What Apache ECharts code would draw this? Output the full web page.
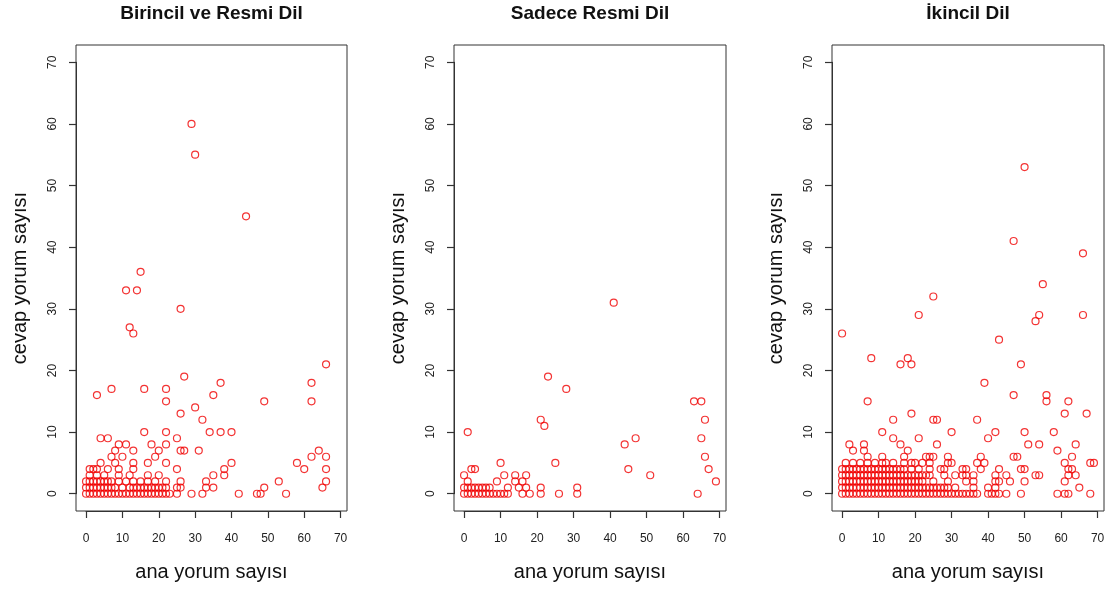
<!DOCTYPE html>
<html><head><meta charset="utf-8">
<script src="https://cdn.jsdelivr.net/npm/echarts@6/dist/echarts.min.js"></script>
<style>html,body{margin:0;padding:0;background:#fff}#c{width:1110px;height:590px}</style>
</head><body><div id="c"></div>
<script>
const panelTitles = ['Birincil ve Resmi Dil', 'Sadece Resmi Dil', 'İkincil Dil'];
const xAxisTitle = 'ana yorum sayısı';
const yAxisTitle = 'cevap yorum sayısı';
const tickValues = [0, 10, 20, 30, 40, 50, 60, 70];

// [ana yorum sayısı, cevap yorum sayısı]
const birincilResmi = [
  [29,60],[30,55],[44,45],[15,36],[11,33],[14,33],[26,30],[12,27],[13,26],[66,21],[27,19],[37,18],[62,18],
  [7,17],[16,17],[22,17],[3,16],[35,16],[22,15],[49,15],[62,15],[30,14],[26,13],[32,12],
  [16,10],[22,10],[34,10],[37,10],[40,10],
  [4,9],[6,9],[25,9],[9,8],[11,8],[18,8],[22,8],[8,7],[13,7],[20,7],[26,7],[27,7],[31,7],[64,7],
  [7,6],[10,6],[19,6],[62,6],[66,6],[4,5],[8,5],[13,5],[17,5],[22,5],[40,5],[58,5],
  [1,4],[2,4],[3,4],[6,4],[9,4],[13,4],[25,4],[38,4],[60,4],[66,4],
  [1,3],[3,3],[5,3],[9,3],[12,3],[17,3],[20,3],[35,3],[38,3],
  [0,2],[1,2],[2,2],[3,2],[4,2],[5,2],[6,2],[7,2],[9,2],[11,2],[13,2],[15,2],[17,2],[19,2],[22,2],[26,2],[33,2],[53,2],[66,2],
  [0,1],[1,1],[2,1],[3,1],[4,1],[5,1],[6,1],[7,1],[8,1],[10,1],[12,1],[13,1],[14,1],[15,1],[16,1],[17,1],[18,1],[19,1],[20,1],[21,1],[22,1],[25,1],[26,1],[33,1],[35,1],[49,1],[65,1],
  [0,0],[1,0],[2,0],[3,0],[4,0],[5,0],[6,0],[7,0],[8,0],[9,0],[10,0],[11,0],[12,0],[13,0],[14,0],[15,0],[16,0],[17,0],[18,0],[19,0],[20,0],[21,0],[22,0],[23,0],[25,0],[29,0],[32,0],[42,0],[47,0],[48,0],[55,0]
];

const sadeceResmi = [
  [41,31],[1,10],[23,19],[28,17],[21,12],[22,11],[63,15],[65,15],[66,12],[65,9],[66,6],[67,4],[69,2],[64,0],
  [44,8],[47,9],[45,4],[51,3],[25,5],[26,0],[31,1],[31,0],[21,1],[21,0],[10,5],[11,3],[9,2],[14,3],[17,3],
  [14,2],[16,2],[15,1],[17,1],[16,0],[18,0],[12,1],[7,1],[2,4],[3,4],[0,3],[1,2],
  [0,1],[1,1],[2,1],[3,1],[4,1],[5,1],[6,1],
  [0,0],[1,0],[2,0],[3,0],[4,0],[5,0],[6,0],[7,0],[8,0],[9,0],[10,0],[11,0],[12,0]
];

const ikincil = [
  [50,53],[47,41],[66,39],[55,34],[25,32],[21,29],[54,29],[66,29],[53,28],[0,26],[43,25],[8,22],[18,22],
  [16,21],[19,21],[49,21],[39,18],[47,16],[56,16],[56,15],[7,15],[62,15],[19,13],[61,13],[67,13],
  [14,12],[25,12],[26,12],[37,12],[11,10],[30,10],[42,10],[50,10],[58,10],[14,9],[21,9],[40,9],
  [2,8],[6,8],[16,8],[26,8],[51,8],[54,8],[64,8],[3,7],[6,7],[18,7],[59,7],
  [7,6],[11,6],[17,6],[23,6],[24,6],[25,6],[29,6],[38,6],[47,6],[48,6],[63,6],
  [1,5],[3,5],[5,5],[7,5],[9,5],[11,5],[12,5],[14,5],[17,5],[19,5],[20,5],[22,5],[24,5],[29,5],[30,5],[37,5],[39,5],[61,5],[68,5],[69,5],
  [0,4],[1,4],[2,4],[3,4],[4,4],[5,4],[6,4],[7,4],[8,4],[9,4],[10,4],[11,4],[12,4],[13,4],[14,4],[15,4],[16,4],[17,4],[19,4],[21,4],[24,4],[27,4],[28,4],[33,4],[34,4],[38,4],[43,4],[49,4],[50,4],[62,4],[63,4],
  [0,3],[1,3],[2,3],[3,3],[4,3],[5,3],[6,3],[7,3],[8,3],[9,3],[10,3],[11,3],[12,3],[13,3],[14,3],[15,3],[16,3],[17,3],[18,3],[19,3],[20,3],[21,3],[22,3],[23,3],[24,3],
  [28,3],[31,3],[33,3],[34,3],[36,3],[42,3],[45,3],[53,3],[54,3],[62,3],[64,3],
  [0,2],[1,2],[2,2],[3,2],[4,2],[5,2],[6,2],[7,2],[8,2],[9,2],[10,2],[11,2],[12,2],[13,2],[14,2],[15,2],[16,2],[17,2],[18,2],[19,2],[20,2],[21,2],[22,2],
  [25,2],[29,2],[34,2],[36,2],[42,2],[43,2],[46,2],[50,2],[61,2],
  [0,1],[1,1],[2,1],[3,1],[4,1],[5,1],[6,1],[7,1],[8,1],[9,1],[10,1],[11,1],[12,1],[13,1],[14,1],[15,1],[16,1],[17,1],[18,1],[19,1],[20,1],[21,1],[22,1],[23,1],[24,1],[25,1],[26,1],[27,1],[28,1],[29,1],
  [31,1],[36,1],[40,1],[42,1],[65,1],
  [0,0],[1,0],[2,0],[3,0],[4,0],[5,0],[6,0],[7,0],[8,0],[9,0],[10,0],[11,0],[12,0],[13,0],[14,0],[15,0],[16,0],[17,0],[18,0],[19,0],[20,0],[21,0],[22,0],[23,0],[24,0],[25,0],[26,0],[27,0],[28,0],[29,0],[30,0],[31,0],
  [32,0],[33,0],[34,0],[35,0],[36,0],[37,0],[40,0],[41,0],[42,0],[43,0],[45,0],[49,0],[59,0],[61,0],[62,0],[68,0]
];

const panelData = [birincilResmi, sadeceResmi, ikincil];

// layout
const BOX_LEFT = [76, 454, 832];
const BOX_W = [271, 272, 272];
const BOX_TOP = 45, BOX_H = 466;
const XMIN = -2.76, XMAX = 71.76, YMIN = -2.8, YMAX = 72.8;
const FONT = 'Liberation Sans, Arial, Helvetica, sans-serif';

const grid = [], xAxis = [], yAxis = [], series = [], graphic = [];
for (let i = 0; i < 3; i++) {
  const L = BOX_LEFT[i], W = BOX_W[i];
  const sx = W / (XMAX - XMIN), sy = BOX_H / (YMAX - YMIN);
  // data box
  grid.push({left: L, top: BOX_TOP, width: W, height: BOX_H, show: true,
    borderColor: '#333', borderWidth: 1, backgroundColor: 'transparent'});
  xAxis.push({gridIndex: 2*i, type: 'value', min: XMIN, max: XMAX, show: false});
  yAxis.push({gridIndex: 2*i, type: 'value', min: YMIN, max: YMAX, show: false});
  // tick grid (spans 0..70)
  const gL = L + (0 - XMIN) * sx, gW = 70 * sx;
  const gT = BOX_TOP + (YMAX - 70) * sy, gH = 70 * sy;
  grid.push({left: gL, top: gT, width: gW, height: gH, show: false});
  const axLine = {show: true, onZero: false, lineStyle: {color: '#333', width: 1}};
  const axTick = {show: true, inside: false, length: 7, lineStyle: {color: '#333', width: 1.2}};
  xAxis.push({gridIndex: 2*i+1, type: 'value', min: tickValues[0], max: tickValues[tickValues.length-1], interval: 10,
    position: 'bottom', offset: (0 - YMIN) * sy,
    axisLine: axLine, axisTick: axTick, splitLine: {show: false},
    axisLabel: {margin: 22, fontSize: 12, color: '#222', fontFamily: FONT}});
  yAxis.push({gridIndex: 2*i+1, type: 'value', min: tickValues[0], max: tickValues[tickValues.length-1], interval: 10,
    position: 'left', offset: (0 - XMIN) * sx,
    axisLine: axLine, axisTick: axTick, splitLine: {show: false},
    axisLabel: {margin: 17, rotate: 90, fontSize: 12, color: '#222', fontFamily: FONT}});
  series.push({type: 'scatter', xAxisIndex: 2*i, yAxisIndex: 2*i, data: panelData[i],
    symbol: 'circle', symbolSize: 7,
    itemStyle: {color: 'rgba(0,0,0,0)', borderColor: '#f00000', borderWidth: 1.2},
    emphasis: {disabled: true}, silent: true});
  const cx = L + W / 2;
  graphic.push({type: 'text', x: cx, y: 14, style: {text: panelTitles[i], font: 'bold 19px ' + FONT,
    fill: '#111', align: 'center', verticalAlign: 'middle'}});
  graphic.push({type: 'text', x: cx, y: 572, style: {text: xAxisTitle, font: '20px ' + FONT,
    fill: '#111', align: 'center', verticalAlign: 'middle'}});
  graphic.push({type: 'text', x: L - 56, y: BOX_TOP + BOX_H / 2, rotation: Math.PI / 2,
    style: {text: yAxisTitle, font: '20px ' + FONT, fill: '#111', align: 'center', verticalAlign: 'middle'}});
}

const chart = echarts.init(document.getElementById('c'), null, {renderer: 'canvas'});
chart.setOption({animation: false, backgroundColor: '#fff', grid, xAxis, yAxis, series, graphic});
</script>
</body></html>
